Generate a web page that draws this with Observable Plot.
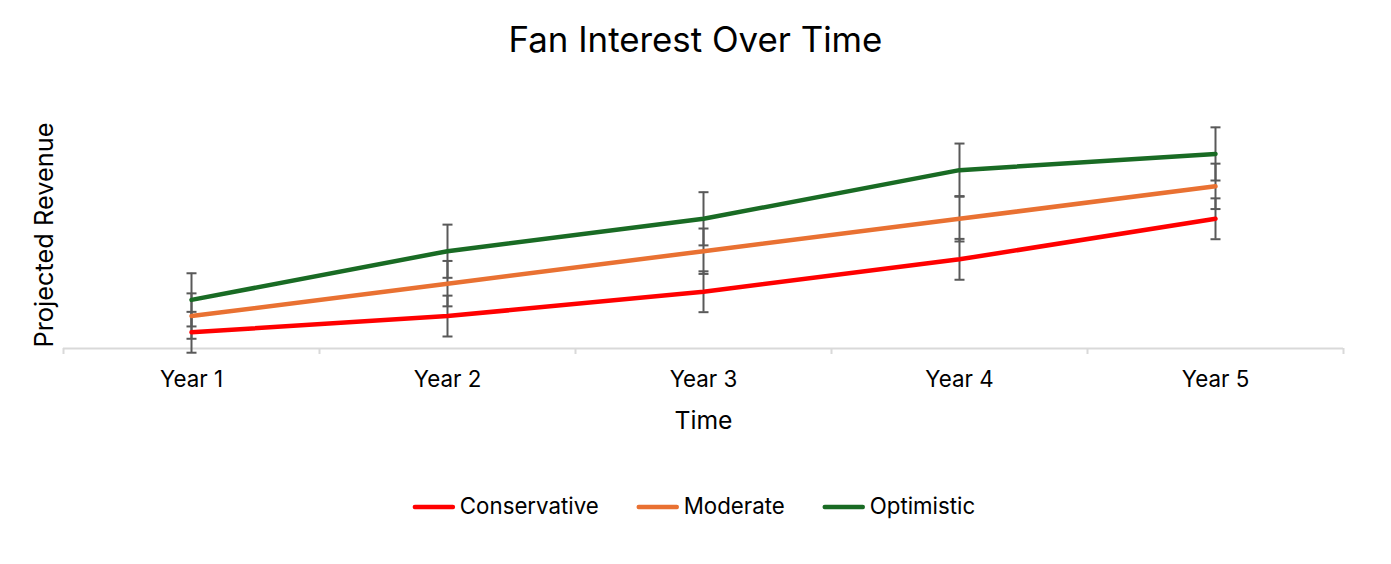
<!DOCTYPE html>
<html>
<head>
<meta charset="utf-8">
<script src="https://cdn.jsdelivr.net/npm/d3@7"></script>
<script src="https://cdn.jsdelivr.net/npm/@observablehq/plot@0.6"></script>
<style>
  html, body { margin: 0; padding: 0; background: #fff; }
  #chart svg { display: block; }
</style>
</head>
<body>
<div id="chart"></div>
<script>
// ---- data ----
const years = ["Year 1", "Year 2", "Year 3", "Year 4", "Year 5"];
const seriesNames = ["Conservative", "Moderate", "Optimistic"];
const conservative = [0.5, 1.0, 1.75, 2.75, 4.0];
const moderate = [1.0, 2.0, 3.0, 4.0, 5.0];
const optimistic = [1.5, 3.0, 4.0, 5.5, 6.0];
const standardErrors = [0.63, 0.70, 0.82];
const seriesColors = ["#FF0000", "#E97132", "#196B24"];
const titleText = "Fan Interest Over Time";
const xTitle = "Time";
const yTitle = "Projected Revenue";

const seriesValues = [conservative, moderate, optimistic];
const rows = [];
seriesNames.forEach((s, k) => {
  seriesValues[k].forEach((v, i) => {
    rows.push({series: s, i: i + 1, year: years[i], value: v, err: standardErrors[k]});
  });
});

// ---- font fitting ----
const FONT = "Inter";
const ctx = document.createElement("canvas").getContext("2d");
function fit(text, width) {
  ctx.font = `400 100px ${FONT}`;
  return 100 * width / ctx.measureText(text).width;
}
const fsTitle = fit(titleText, 374);
const fsTick = fit("Year 1", 63);
const fsXTitle = fit(xTitle, 58);
const fsYTitle = fit(yTitle, 225);
const fsLegend = fit("Conservative", 139);

// horizontal cap symbol for error bars
const capSymbol = {
  draw(context, size) {
    const w = Math.sqrt(size / Math.PI);
    context.moveTo(-w, 0);
    context.lineTo(w, 0);
  }
};

const W = 1391, H = 564;
const chart = Plot.plot({
  width: W,
  height: H,
  marginLeft: 63,
  marginRight: 48,
  marginTop: 121,
  marginBottom: 216,
  style: {fontFamily: `${FONT}, sans-serif`, background: "#fff", color: "#000"},
  x: {type: "linear", domain: [0.5, 5.5], axis: null, label: null},
  y: {type: "linear", domain: [0, 7], axis: null, label: null},
  color: {domain: seriesNames, range: seriesColors},
  marks: [
    Plot.ruleY([0], {stroke: "#d9d9d9", strokeWidth: 2}),
    Plot.axisX(d3.range(0.5, 5.6, 1), {anchor: "bottom", tickSize: 6, stroke: "#d9d9d9", strokeWidth: 2, tickFormat: () => "", label: null}),
    Plot.text(years, {x: (d, i) => i + 1, frameAnchor: "bottom", dy: 38, lineAnchor: "bottom", textAnchor: "middle", text: d => d, fontSize: fsTick, fill: "#000"}),
    Plot.text([xTitle], {frameAnchor: "bottom", dy: 80, lineAnchor: "bottom", textAnchor: "middle", text: d => d, fontSize: fsXTitle, fill: "#000"}),
    Plot.text([yTitle], {frameAnchor: "left", dx: -11, rotate: -90, lineAnchor: "bottom", textAnchor: "middle", text: d => d, fontSize: fsYTitle, fill: "#000"}),
    Plot.text([titleText], {frameAnchor: "top", dx: -8, dy: -70, lineAnchor: "bottom", textAnchor: "middle", text: d => d, fontSize: fsTitle, fill: "#000"}),
    // error bars
    Plot.ruleX(rows, {x: "i", y1: d => d.value - d.err, y2: d => d.value + d.err, stroke: "#595959", strokeWidth: 2}),
    Plot.dot(rows, {x: "i", y: d => d.value - d.err, symbol: capSymbol, r: 5, stroke: "#595959", strokeWidth: 2, fill: "none"}),
    Plot.dot(rows, {x: "i", y: d => d.value + d.err, symbol: capSymbol, r: 5, stroke: "#595959", strokeWidth: 2, fill: "none"}),
    // series lines
    Plot.line(rows, {x: "i", y: "value", z: "series", stroke: "series", strokeWidth: 4.5, curve: "linear", strokeLinecap: "round", strokeLinejoin: "round"})
  ]
});
document.getElementById("chart").appendChild(chart);

// ---- legend (below plot area, inside the same svg) ----
const svg = d3.select(chart);
const lg = svg.append("g").attr("font-family", `${FONT}, sans-serif`).attr("font-size", fsLegend).attr("text-anchor", "start");
const lineLen = 42, gapLT = 5, gapItems = 38, baseline = 514, lineY = 507;
ctx.font = `400 ${fsLegend}px ${FONT}`;
const widths = seriesNames.map(s => ctx.measureText(s).width);
const total = widths.reduce((a, w) => a + lineLen + gapLT + w, 0) + gapItems * (seriesNames.length - 1);
let x0 = 694 - total / 2;
seriesNames.forEach((s, k) => {
  lg.append("line").attr("x1", x0 + 2).attr("x2", x0 + lineLen - 2).attr("y1", lineY).attr("y2", lineY)
    .attr("stroke", seriesColors[k]).attr("stroke-width", 4.5).attr("stroke-linecap", "round");
  lg.append("text").attr("x", x0 + lineLen + gapLT).attr("y", baseline).attr("fill", "#000").attr("text-anchor", "start").text(s);
  x0 += lineLen + gapLT + widths[k] + gapItems;
});
</script>
</body>
</html>
